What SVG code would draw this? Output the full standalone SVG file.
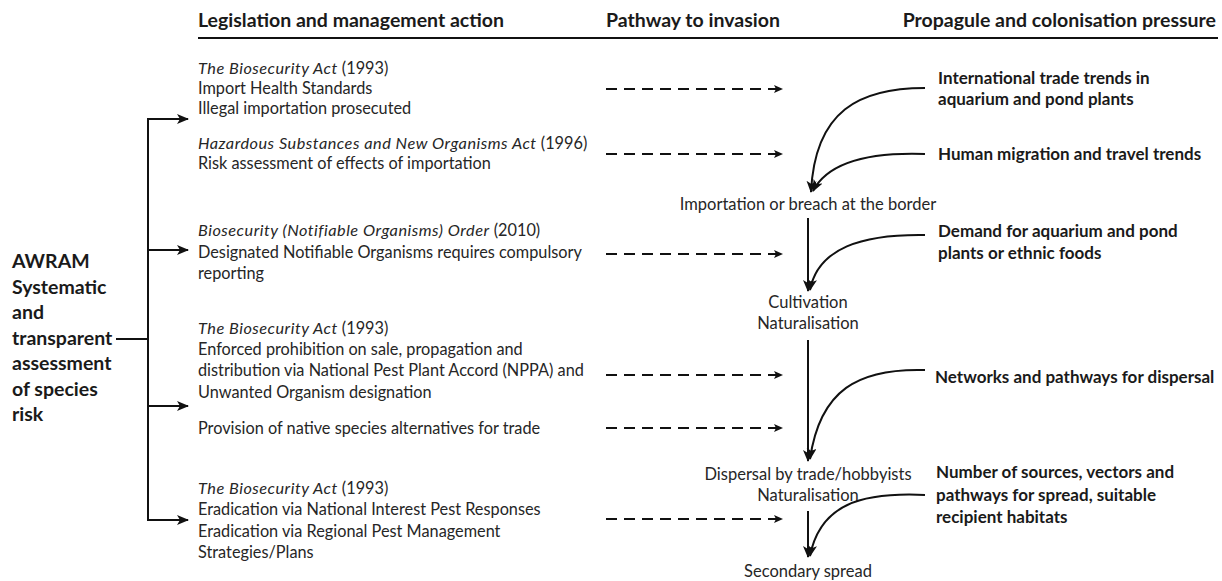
<svg xmlns="http://www.w3.org/2000/svg" width="1222" height="581" viewBox="0 0 1222 581">
  <style>
    text { font-family: Lato, "Liberation Sans", sans-serif; fill: #1a1a1a; }
    .hd { font-size: 19.5px; font-weight: bold; }
    .aw { font-size: 19.5px; font-weight: bold; }
    .lg { font-size: 16.3px; fill: #262626; }
    .pw { font-size: 16.5px; text-anchor: middle; fill: #262626; }
    .pr { font-size: 17px; font-weight: bold; }
    .it { font-style: italic; letter-spacing: 0.5px; }
    .ln { stroke: #111; stroke-width: 2; fill: none; }
    .dash { stroke: #111; stroke-width: 2; fill: none; stroke-dasharray: 11 7; }
  </style>
  <defs>
    <marker id="ah" markerUnits="userSpaceOnUse" markerWidth="12" markerHeight="10" refX="11" refY="5" orient="auto">
      <path d="M0,0 L12,5 L0,10 L3,5 z" fill="#111"/>
    </marker>
    <marker id="ahs" markerUnits="userSpaceOnUse" markerWidth="9" markerHeight="8" refX="8" refY="4" orient="auto">
      <path d="M0,0 L9,4 L0,8 L2,4 z" fill="#111"/>
    </marker>
  </defs>

  <!-- column headings -->
  <g id="headers">
    <text class="hd" x="198" y="27">Legislation and management action</text>
    <text class="hd" x="606" y="27">Pathway to invasion</text>
    <text class="hd" x="1216" y="27" text-anchor="end">Propagule and colonisation pressure</text>
    <line x1="198" y1="38" x2="1218" y2="38" stroke="#111" stroke-width="2"/>
  </g>

  <!-- assessment node -->
  <g id="awram">
    <text class="aw" x="12" y="268">AWRAM</text>
    <text class="aw" x="12" y="294">Systematic</text>
    <text class="aw" x="12" y="319">and</text>
    <text class="aw" x="12" y="345">transparent</text>
    <text class="aw" x="12" y="370">assessment</text>
    <text class="aw" x="12" y="396">of species</text>
    <text class="aw" x="12" y="421">risk</text>
  </g>

  <!-- legislation and management actions -->
  <g id="action-border">
    <text class="lg" x="198" y="74"><tspan class="it">The Biosecurity Act</tspan> (1993)</text>
    <text class="lg" x="198" y="94">Import Health Standards</text>
    <text class="lg" x="198" y="114">Illegal importation prosecuted</text>
  </g>
  <g id="action-hsno">
    <text class="lg" x="198" y="149"><tspan class="it">Hazardous Substances and New Organisms Act</tspan> (1996)</text>
    <text class="lg" x="198" y="169">Risk assessment of effects of importation</text>
  </g>
  <g id="action-notifiable">
    <text class="lg" x="198" y="236"><tspan class="it">Biosecurity (Notifiable Organisms) Order</tspan> (2010)</text>
    <text class="lg" x="198" y="258">Designated Notifiable Organisms requires compulsory</text>
    <text class="lg" x="198" y="279">reporting</text>
  </g>
  <g id="action-nppa">
    <text class="lg" x="198" y="334"><tspan class="it">The Biosecurity Act</tspan> (1993)</text>
    <text class="lg" x="198" y="355">Enforced prohibition on sale, propagation and</text>
    <text class="lg" x="198" y="376">distribution via National Pest Plant Accord (NPPA) and</text>
    <text class="lg" x="198" y="398">Unwanted Organism designation</text>
  </g>
  <g id="action-native">
    <text class="lg" x="198" y="434">Provision of native species alternatives for trade</text>
  </g>
  <g id="action-eradication">
    <text class="lg" x="198" y="494"><tspan class="it">The Biosecurity Act</tspan> (1993)</text>
    <text class="lg" x="198" y="515">Eradication via National Interest Pest Responses</text>
    <text class="lg" x="198" y="537">Eradication via Regional Pest Management</text>
    <text class="lg" x="198" y="558">Strategies/Plans</text>
  </g>

  <!-- pathway stages -->
  <g id="stage-import">
    <text class="pw" x="808" y="210">Importation or breach at the border</text>
  </g>
  <g id="stage-cultivation">
    <text class="pw" x="808" y="308">Cultivation</text>
    <text class="pw" x="808" y="329">Naturalisation</text>
  </g>
  <g id="stage-dispersal">
    <text class="pw" x="808" y="480">Dispersal by trade/hobbyists</text>
    <text class="pw" x="808" y="501">Naturalisation</text>
  </g>
  <g id="stage-spread">
    <text class="pw" x="808" y="577">Secondary spread</text>
  </g>

  <!-- pressures -->
  <g id="pressure-trade">
    <text class="pr" x="938" y="84">International trade trends in</text>
    <text class="pr" x="938" y="105">aquarium and pond plants</text>
  </g>
  <g id="pressure-migration">
    <text class="pr" x="938" y="160">Human migration and travel trends</text>
  </g>
  <g id="pressure-demand">
    <text class="pr" x="938" y="237">Demand for aquarium and pond</text>
    <text class="pr" x="938" y="259">plants or ethnic foods</text>
  </g>
  <g id="pressure-networks">
    <text class="pr" x="935" y="383">Networks and pathways for dispersal</text>
  </g>
  <g id="pressure-sources">
    <text class="pr" x="936" y="478">Number of sources, vectors and</text>
    <text class="pr" x="936" y="501">pathways for spread, suitable</text>
    <text class="pr" x="936" y="523">recipient habitats</text>
  </g>

  <!-- connectors -->
  <g id="connectors">
    <!-- bracket from the assessment to each action -->
    <line class="ln" x1="116" y1="339" x2="148" y2="339"/>
    <line class="ln" x1="148" y1="118" x2="148" y2="521"/>
    <line class="ln" x1="147" y1="119" x2="188" y2="119" marker-end="url(#ah)"/>
    <line class="ln" x1="147" y1="250" x2="188" y2="250" marker-end="url(#ah)"/>
    <line class="ln" x1="147" y1="406" x2="188" y2="406" marker-end="url(#ah)"/>
    <line class="ln" x1="147" y1="520" x2="188" y2="520" marker-end="url(#ah)"/>

    <!-- actions acting on the pathway -->
    <line class="dash" x1="606" y1="89" x2="782" y2="89" marker-end="url(#ahs)"/>
    <line class="dash" x1="606" y1="154" x2="782" y2="154" marker-end="url(#ahs)"/>
    <line class="dash" x1="606" y1="254" x2="782" y2="254" marker-end="url(#ahs)"/>
    <line class="dash" x1="606" y1="375" x2="782" y2="375" marker-end="url(#ahs)"/>
    <line class="dash" x1="606" y1="428" x2="782" y2="428" marker-end="url(#ahs)"/>
    <line class="dash" x1="606" y1="519" x2="782" y2="519" marker-end="url(#ahs)"/>

    <!-- pathway stages -->
    <line class="ln" x1="808" y1="218" x2="808" y2="291" marker-end="url(#ah)"/>
    <line class="ln" x1="808" y1="340" x2="808" y2="461" marker-end="url(#ah)"/>
    <line class="ln" x1="808" y1="511" x2="808" y2="557" marker-end="url(#ah)"/>

    <!-- pressures feeding the pathway -->
    <path class="ln" d="M925,88 C860,88 815,110 811,192" marker-end="url(#ah)"/>
    <path class="ln" d="M925,154 C868,152 828,162 813,191" marker-end="url(#ah)"/>
    <path class="ln" d="M925,235 C862,234 818,248 810,290" marker-end="url(#ah)"/>
    <path class="ln" d="M925,370 C858,368 820,390 810,459" marker-end="url(#ah)"/>
    <path class="ln" d="M925,495 C860,492 820,505 810,556" marker-end="url(#ah)"/>
  </g>
</svg>
